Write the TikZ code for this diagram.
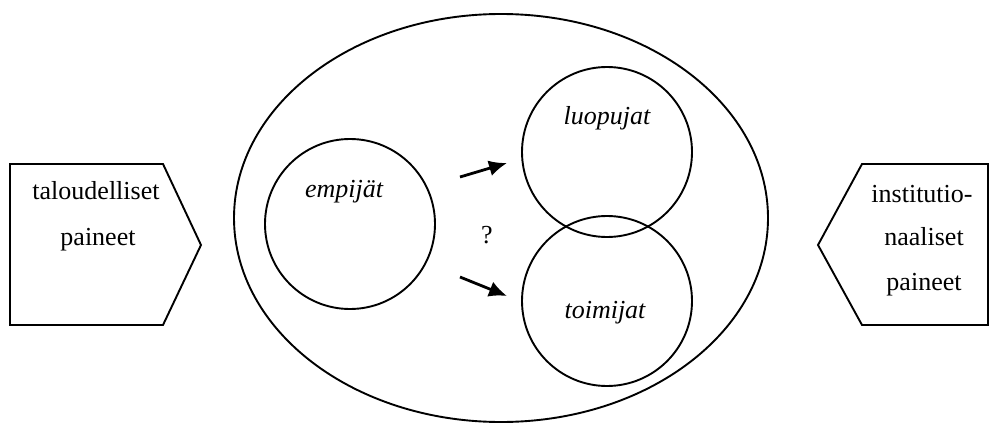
\documentclass[tikz,border=0pt]{standalone}
\usepackage{fontspec}
\setmainfont{Liberation Serif}
\usetikzlibrary{shapes.geometric,arrows.meta}
\begin{document}
\begin{tikzpicture}[x=1pt,y=-1pt,
  outline/.style={draw=black,line width=1.9pt},
  lbl/.style={font=\fontsize{26}{30}\selectfont,anchor=base,inner sep=0pt},
  group/.style={outline,circle,minimum size=170pt,inner sep=0pt},
  flow/.style={line width=2.8pt,-{Latex[length=18pt,width=16pt]}}]
\useasboundingbox (0,0) rectangle (998,423);
% outer population
\node[outline,ellipse,minimum width=534pt,minimum height=408pt] (pop) at (501,218) {};
% left pressure block
\draw[outline,line join=miter] (10,164) -- (163,164) -- (201,245) -- (163,325) -- (10,325) -- cycle;
\node[lbl] (tal1) at (96,199) {taloudelliset};
\node[lbl] (tal2) at (98,245) {paineet};
% right pressure block
\draw[outline,line join=miter] (988,164) -- (862,164) -- (818,245) -- (862,325) -- (988,325) -- cycle;
\node[lbl] (ins1) at (922,202) {institutio-};
\node[lbl] (ins2) at (924,245) {naaliset};
\node[lbl] (ins3) at (924,290) {paineet};
% groups
\node[group] (emp) at (350,224) {};
\node[group] (luo) at (607,152) {};
\node[group] (toi) at (607,301) {};
\node[lbl,font=\fontsize{26}{30}\selectfont\itshape] (empl) at (344,197) {empijät};
\node[lbl,font=\fontsize{26}{30}\selectfont\itshape] (luol) at (607,124) {luopujat};
\node[lbl,font=\fontsize{26}{30}\selectfont\itshape] (toil) at (605,318) {toimijat};
\node[lbl] (q) at (487,243) {?};
% transitions
\coordinate (a1s) at (460,177);
\coordinate (a1e) at (507,163);
\coordinate (a2s) at (460,277);
\coordinate (a2e) at (507,296);
\draw[flow] (a1s) -- (a1e);
\draw[flow] (a2s) -- (a2e);
\end{tikzpicture}
\end{document}
